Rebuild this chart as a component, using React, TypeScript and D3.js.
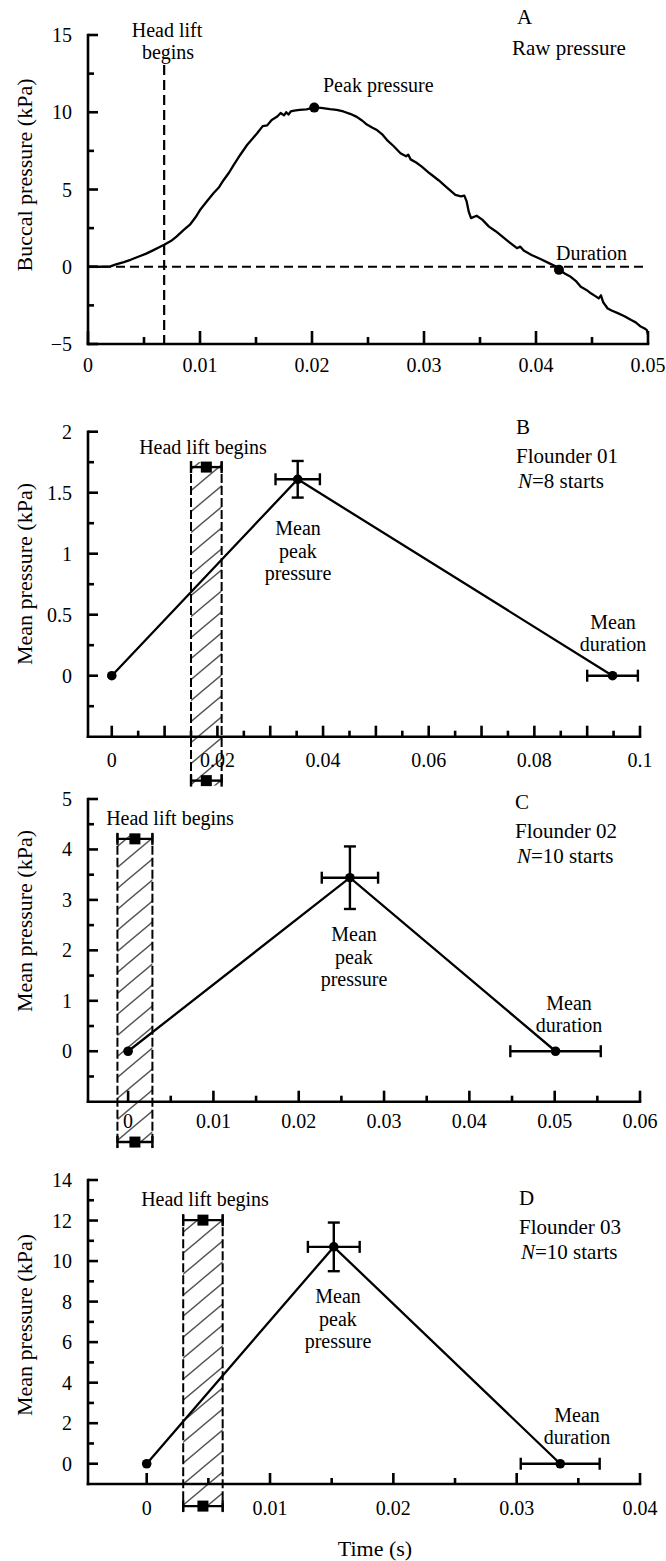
import * as d3 from "d3";

const FONT = "'Liberation Serif', 'Times New Roman', Times, serif";

// ---- panel A: raw buccal pressure trace (s, kPa)
const rawTime = [
  0, 0.001, 0.002, 0.0025, 0.0032, 0.0038, 0.0046, 0.0052, 0.0058, 0.0064,
  0.0068, 0.0074, 0.0079, 0.0085, 0.0091, 0.0096, 0.01, 0.0106, 0.0112, 0.0117,
  0.0121, 0.0126, 0.013, 0.0136, 0.0142, 0.0147, 0.0151, 0.0156, 0.016, 0.0164,
  0.0169, 0.0172, 0.0175, 0.0177, 0.0179, 0.0181, 0.0184, 0.0189, 0.0195, 0.0202,
  0.0208, 0.0216, 0.0222, 0.0228, 0.0234, 0.024, 0.0245, 0.0249, 0.0254, 0.0258,
  0.0263, 0.0267, 0.0273, 0.0279, 0.0284, 0.0286, 0.0288, 0.0293, 0.0298, 0.0305,
  0.0313, 0.032, 0.0328, 0.0333, 0.0336, 0.0338, 0.034, 0.0342, 0.0347, 0.0352,
  0.0358, 0.0364, 0.037, 0.0376, 0.0383, 0.0386, 0.0389, 0.0396, 0.0404, 0.0412,
  0.0417, 0.0421, 0.0426, 0.0431, 0.0436, 0.044, 0.0445, 0.0449, 0.0453, 0.0456,
  0.0458, 0.046, 0.0464, 0.0468, 0.0473, 0.0479, 0.0485, 0.0489, 0.0493, 0.0497, 0.0499, 0.05,
];
const rawPressure = [
  0, 0, 0.02, 0.15, 0.3, 0.45, 0.68, 0.85, 1.06, 1.28,
  1.42, 1.66, 1.95, 2.35, 2.72, 3.2, 3.67, 4.22, 4.76, 5.15,
  5.6, 6.1, 6.58, 7.25, 7.88, 8.3, 8.64, 9.1, 9.15, 9.5,
  9.72, 9.95, 9.8, 10.0, 9.85, 10.05, 10.1, 10.15, 10.18, 10.3,
  10.28, 10.2, 10.15, 10.05, 9.9, 9.7, 9.45, 9.2, 9.0, 8.85,
  8.55, 8.2, 7.8, 7.35, 7.15, 7.25, 6.95, 6.75, 6.48, 6.05,
  5.6, 5.15, 4.65, 4.55, 4.6, 4.25, 3.55, 3.15, 3.3, 3.05,
  2.6, 2.3, 1.95, 1.6, 1.2, 1.3, 1.05, 0.76, 0.5, 0.22,
  0.05, -0.2, -0.45, -0.65, -0.95, -1.3, -1.5, -1.72, -1.9, -2.05,
  -1.85, -2.3, -2.7, -2.85, -3.0, -3.2, -3.45, -3.6, -3.85, -4.0, -4.1, -4.4,
];
const aHeadLift = 0.0068;
const aPeak = [0.0202, 10.3];
const aDuration = [0.04205, -0.2];
const aXTicks = [0, 0.01, 0.02, 0.03, 0.04, 0.05];
const aXMinor = [0.005, 0.015, 0.025, 0.035, 0.045];
const aYTicks = [-5, 0, 5, 10, 15];
const aYMinor = [-2.5, 2.5, 7.5, 12.5];

// ---- panels B-D: means (onset, peak, duration) with s.d.
const bTime = [0, 0.0352, 0.0948];
const bPressure = [0, 1.61, 0];
const bTimeErr = [0, 0.0042, 0.0048];
const bPressureErr = [0, 0.15, 0];
const bHeadLift = [0.0179, 0.0029];
const bHeadLiftLevels = [1.71, -0.86];
const bXTicks = [0, 0.01, 0.02, 0.03, 0.04, 0.05, 0.06, 0.07, 0.08, 0.09, 0.1];
const bXLabels = [0, 0.02, 0.04, 0.06, 0.08, 0.1];
const bXMinor = [0.005, 0.015, 0.025, 0.035, 0.045, 0.055, 0.065, 0.075, 0.085, 0.095];
const bYTicks = [0, 0.5, 1, 1.5, 2];
const bYMinor = [-0.25, 0.25, 0.75, 1.25, 1.75];

const cTime = [0, 0.026, 0.0501];
const cPressure = [0, 3.44, 0];
const cTimeErr = [0, 0.0033, 0.0053];
const cPressureErr = [0, 0.62, 0];
const cHeadLift = [0.0008, 0.00205];
const cHeadLiftLevels = [4.21, -1.8];
const cXTicks = [0, 0.01, 0.02, 0.03, 0.04, 0.05, 0.06];
const cXMinor = [0.005, 0.015, 0.025, 0.035, 0.045, 0.055];
const cYTicks = [0, 1, 2, 3, 4, 5];
const cYMinor = [-0.5, 0.5, 1.5, 2.5, 3.5, 4.5];

const dTime = [0, 0.01517, 0.03353];
const dPressure = [0, 10.7, 0];
const dTimeErr = [0, 0.0021, 0.0032];
const dPressureErr = [0, 1.2, 0];
const dHeadLift = [0.00456, 0.0016];
const dHeadLiftLevels = [12.02, -2.09];
const dXTicks = [0, 0.01, 0.02, 0.03, 0.04];
const dXMinor = [0.005, 0.015, 0.025, 0.035];
const dYTicks = [0, 2, 4, 6, 8, 10, 12, 14];
const dYMinor = [1, 3, 5, 7, 9, 11, 13];

const fmt = v => (v < 0 ? "\u2212" + Math.abs(v) : String(v));
const AXIS_W = 2.6;

function YAxis({ y, x0, major, minor, labels }) {
  const [d0, d1] = y.domain();
  return (
    <g stroke="#000" strokeWidth={AXIS_W}>
      <line x1={x0} x2={x0} y1={y(d1)} y2={y(d0)} strokeLinecap="square" />
      {major.map(v => <line key={"M" + v} x1={x0} x2={x0 + 10} y1={y(v)} y2={y(v)} />)}
      {minor.map(v => <line key={"m" + v} x1={x0} x2={x0 + 6} y1={y(v)} y2={y(v)} />)}
      {labels.map(v => (
        <text key={"t" + v} x={x0 - 16} y={y(v)} stroke="none" fontSize={20}
          textAnchor="end" dominantBaseline="central">{fmt(v)}</text>
      ))}
    </g>
  );
}

function XAxis({ x, y0, major, minor, labels, majorLen, minorLen, labelDy }) {
  const [r0, r1] = x.range();
  return (
    <g stroke="#000" strokeWidth={AXIS_W}>
      <line x1={r0} x2={r1} y1={y0} y2={y0} strokeLinecap="square" />
      {major.map(v => <line key={"M" + v} x1={x(v)} x2={x(v)} y1={y0} y2={y0 - majorLen} />)}
      {minor.map(v => <line key={"m" + v} x1={x(v)} x2={x(v)} y1={y0} y2={y0 - minorLen} />)}
      {labels.map(v => (
        <text key={"t" + v} x={x(v)} y={y0 + labelDy} stroke="none" fontSize={20}
          textAnchor="middle" dominantBaseline="central">{fmt(v)}</text>
      ))}
    </g>
  );
}

function YTitle({ cy, text }) {
  return (
    <text transform={`translate(24,${cy}) rotate(-90)`} fontSize={22}
      textAnchor="middle" dominantBaseline="central">{text}</text>
  );
}

function PanelA() {
  const x = d3.scaleLinear().domain([0, 0.05]).range([88, 648]);
  const y = d3.scaleLinear().domain([-5, 15]).range([344, 35]);
  const line = d3.line().x(i => x(rawTime[i])).y(i => y(rawPressure[i]));
  const idx = d3.range(rawTime.length);
  return (
    <g>
      <line x1={x(0)} x2={x(0.05)} y1={y(0)} y2={y(0)} stroke="#000" strokeWidth={2.2} strokeDasharray="9,5" />
      <line x1={x(aHeadLift)} x2={x(aHeadLift)} y1={65} y2={y(-5)} stroke="#000" strokeWidth={2.2} strokeDasharray="10,5" />
      <path d={line(idx)} fill="none" stroke="#000" strokeWidth={2.3} strokeLinejoin="round" />
      <circle cx={x(aPeak[0])} cy={y(aPeak[1])} r={5} fill="#000" />
      <circle cx={x(aDuration[0])} cy={y(aDuration[1])} r={5} fill="#000" />
      <YAxis y={y} x0={88} major={aYTicks} minor={aYMinor} labels={aYTicks} />
      <XAxis x={x} y0={344} major={aXTicks} minor={aXMinor} labels={aXTicks} majorLen={13} minorLen={7} labelDy={21} />
      <YTitle cy={175} text="Buccal pressure (kPa)" />
      <text x={167} y={30} fontSize={20} textAnchor="middle" dominantBaseline="central">Head lift</text>
      <text x={168} y={52} fontSize={20} textAnchor="middle" dominantBaseline="central">begins</text>
      <text x={323} y={85} fontSize={20} dominantBaseline="central">Peak pressure</text>
      <text x={556} y={253} fontSize={20} dominantBaseline="central">Duration</text>
      <text x={517} y={17} fontSize={21} dominantBaseline="central">A</text>
      <text x={512} y={48} fontSize={21} dominantBaseline="central">Raw pressure</text>
    </g>
  );
}

function ErrH({ x0, x1, cy }) {
  return (
    <g stroke="#000" strokeWidth={2.4}>
      <line x1={x0} x2={x1} y1={cy} y2={cy} />
      <line x1={x0} x2={x0} y1={cy - 6} y2={cy + 6} />
      <line x1={x1} x2={x1} y1={cy - 6} y2={cy + 6} />
    </g>
  );
}

function ErrV({ cx, y0, y1 }) {
  return (
    <g stroke="#000" strokeWidth={2.4}>
      <line x1={cx} x2={cx} y1={y0} y2={y1} />
      <line x1={cx - 6} x2={cx + 6} y1={y0} y2={y0} />
      <line x1={cx - 6} x2={cx + 6} y1={y1} y2={y1} />
    </g>
  );
}

function MeanPanel(p) {
  const { x, y, time, pressure, timeErr, pressureErr, headLift, levels } = p;
  const [hm, hs] = headLift;
  const bx0 = x(hm - hs), bx1 = x(hm + hs);
  const ty = y(levels[0]), by = y(levels[1]);
  const idx = d3.range(time.length);
  const line = d3.line().x(i => x(time[i])).y(i => y(pressure[i]));
  const [y0] = y.range();
  return (
    <g>
      <rect x={bx0} y={ty - 5} width={bx1 - bx0} height={by - ty + 10} fill="url(#hatch)" />
      {[bx0, bx1].map((bx, i) => (
        <line key={i} x1={bx} x2={bx} y1={ty - 5} y2={by + 5} stroke="#000" strokeWidth={2} strokeDasharray="9,3" />
      ))}
      {[ty, by].map((yy, i) => (
        <g key={i}>
          <ErrH x0={bx0} x1={bx1} cy={yy} />
          <rect x={x(hm) - 5.5} y={yy - 5.5} width={11} height={11} fill="#000" />
        </g>
      ))}
      <YAxis y={y} x0={88} major={p.yTicks} minor={p.yMinor} labels={p.yTicks} />
      <XAxis x={x} y0={y0} major={p.xTicks} minor={p.xMinor} labels={p.xLabels}
        majorLen={11} minorLen={6} labelDy={p.labelDy} />
      <path d={line(idx)} fill="none" stroke="#000" strokeWidth={2.3} />
      {idx.map(i => (
        <g key={i}>
          {timeErr[i] > 0 && <ErrH x0={x(time[i] - timeErr[i])} x1={x(time[i] + timeErr[i])} cy={y(pressure[i])} />}
          {pressureErr[i] > 0 && <ErrV cx={x(time[i])} y0={y(pressure[i] + pressureErr[i])} y1={y(pressure[i] - pressureErr[i])} />}
          <circle cx={x(time[i])} cy={y(pressure[i])} r={4.8} fill="#000" />
        </g>
      ))}
      <YTitle cy={p.titleY} text="Mean pressure (kPa)" />
      <text x={p.headText[0]} y={p.headText[1]} fontSize={20} textAnchor="middle" dominantBaseline="central">Head lift begins</text>
      {["Mean", "peak", "pressure"].map((t, i) => (
        <text key={t} x={p.peakText[0]} y={p.peakText[1] + i * 22.5} fontSize={20}
          textAnchor="middle" dominantBaseline="central">{t}</text>
      ))}
      {["Mean", "duration"].map((t, i) => (
        <text key={t} x={p.durText[0]} y={p.durText[1] + i * 22} fontSize={20}
          textAnchor="middle" dominantBaseline="central">{t}</text>
      ))}
      <text x={p.corner[0]} y={p.corner[1]} fontSize={21} dominantBaseline="central">{p.letter}</text>
      <text x={p.corner[0]} y={p.corner[1] + 28.5} fontSize={21} dominantBaseline="central">{p.fish}</text>
      <text x={p.corner[0] + 2} y={p.corner[1] + 54} fontSize={21} dominantBaseline="central">
        <tspan fontStyle="italic">N</tspan>={p.n} starts
      </text>
    </g>
  );
}

export default function App() {
  const xB = d3.scaleLinear().domain([-0.0045, 0.1]).range([88, 640]);
  const yB = d3.scaleLinear().domain([-0.5, 2]).range([736.7, 431.7]);
  const xC = d3.scaleLinear().domain([-0.0047, 0.06]).range([88, 640]);
  const yC = d3.scaleLinear().domain([-1, 5]).range([1101.7, 799]);
  const xD = d3.scaleLinear().domain([-0.00476, 0.04]).range([88, 640]);
  const yD = d3.scaleLinear().domain([-1, 14]).range([1484, 1180]);
  return (
    <svg width={666} height={1561} fontFamily={FONT}
      style={{ position: "absolute", left: 0, top: 0, background: "#fff" }}>
      <defs>
        <pattern id="hatch" patternUnits="userSpaceOnUse" width={25} height={21}>
          <path d="M0,21 L25,0 M-5,4.2 L5,-4.2 M20,25.2 L30,16.8" stroke="#555" strokeWidth={1.4} />
        </pattern>
      </defs>
      <rect width={666} height={1561} fill="#fff" />
      <PanelA />
      <MeanPanel x={xB} y={yB} time={bTime} pressure={bPressure} timeErr={bTimeErr} pressureErr={bPressureErr}
        headLift={bHeadLift} levels={bHeadLiftLevels} xTicks={bXTicks} xLabels={bXLabels} xMinor={bXMinor}
        yTicks={bYTicks} yMinor={bYMinor} labelDy={23} titleY={574}
        headText={[203, 447]} peakText={[298, 528]} durText={[613, 622]}
        corner={[516, 427]} letter="B" fish="Flounder 01" n={8} />
      <MeanPanel x={xC} y={yC} time={cTime} pressure={cPressure} timeErr={cTimeErr} pressureErr={cPressureErr}
        headLift={cHeadLift} levels={cHeadLiftLevels} xTicks={cXTicks} xLabels={cXTicks} xMinor={cXMinor}
        yTicks={cYTicks} yMinor={cYMinor} labelDy={19} titleY={921}
        headText={[170, 818]} peakText={[354, 934]} durText={[569, 1003]}
        corner={[515, 802]} letter="C" fish="Flounder 02" n={10} />
      <MeanPanel x={xD} y={yD} time={dTime} pressure={dPressure} timeErr={dTimeErr} pressureErr={dPressureErr}
        headLift={dHeadLift} levels={dHeadLiftLevels} xTicks={dXTicks} xLabels={dXTicks} xMinor={dXMinor}
        yTicks={dYTicks} yMinor={dYMinor} labelDy={24} titleY={1325}
        headText={[205, 1199]} peakText={[338, 1296]} durText={[577, 1415]}
        corner={[519, 1198]} letter="D" fish="Flounder 03" n={10} />
      <text x={375} y={1548} fontSize={22} textAnchor="middle" dominantBaseline="central">Time (s)</text>
    </svg>
  );
}
